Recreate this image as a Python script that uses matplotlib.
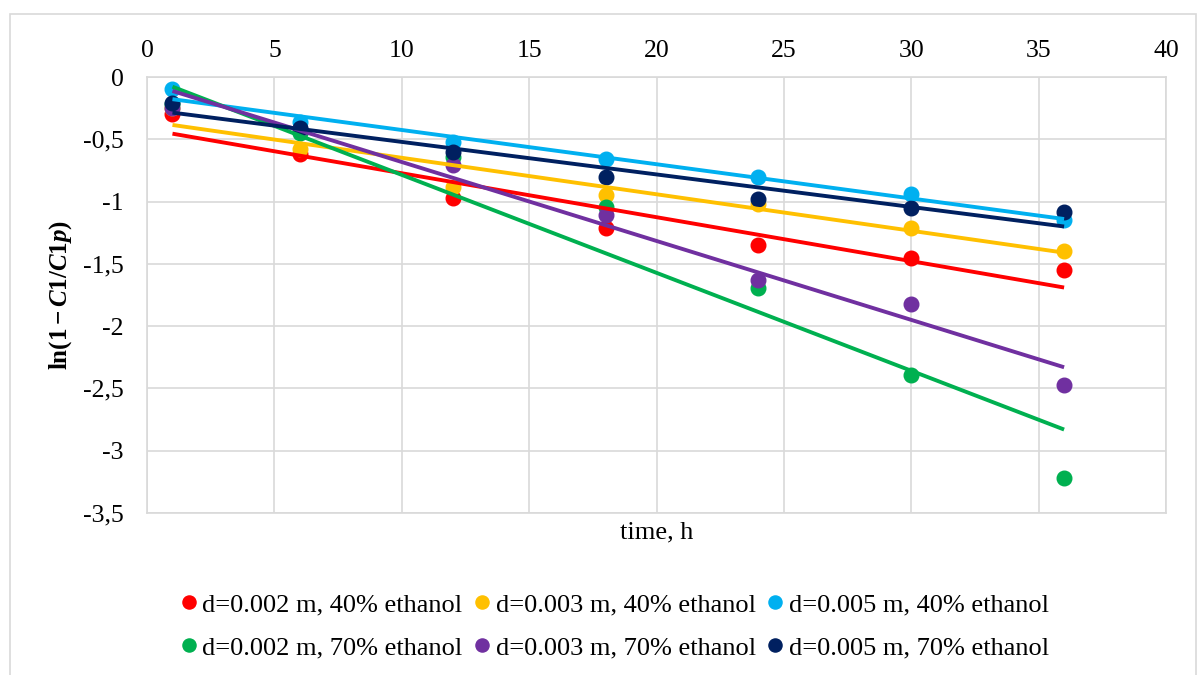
import numpy as np
import matplotlib
matplotlib.use("Agg")
import matplotlib.pyplot as plt
from matplotlib.patches import Rectangle

# ---------------------------------------------------------------------------
# data
# ---------------------------------------------------------------------------
time_h = [1, 6, 12, 18, 24, 30, 36]

labels = [
    "d=0.002 m, 40% ethanol",
    "d=0.003 m, 40% ethanol",
    "d=0.005 m, 40% ethanol",
    "d=0.002 m, 70% ethanol",
    "d=0.003 m, 70% ethanol",
    "d=0.005 m, 70% ethanol",
]
colors = ["#FF0000", "#FFC000", "#00B0F0", "#00B050", "#7030A0", "#002060"]

d002_40 = [-0.30, -0.62, -0.97, -1.21, -1.35, -1.45, -1.55]
d003_40 = [-0.25, -0.58, -0.88, -0.95, -1.02, -1.21, -1.40]
d005_40 = [-0.10, -0.36, -0.52, -0.66, -0.80, -0.94, -1.15]
d002_70 = [-0.22, -0.45, -0.64, -1.04, -1.69, -2.39, -3.22]
d003_70 = [-0.25, -0.42, -0.71, -1.11, -1.63, -1.82, -2.47]
d005_70 = [-0.21, -0.41, -0.60, -0.80, -0.98, -1.05, -1.08]
series = [d002_40, d003_40, d005_40, d002_70, d003_70, d005_70]

# trend lines: value at t=1 and t=36
trend_t = [1, 36]
trend_002_40 = [-0.455, -1.69]
trend_003_40 = [-0.385, -1.41]
trend_005_40 = [-0.178, -1.14]
trend_002_70 = [-0.078, -2.83]
trend_003_70 = [-0.112, -2.33]
trend_005_70 = [-0.286, -1.20]
trends = [trend_002_40, trend_003_40, trend_005_40,
          trend_002_70, trend_003_70, trend_005_70]

xticks = [0, 5, 10, 15, 20, 25, 30, 35, 40]
yticks = [0, -0.5, -1, -1.5, -2, -2.5, -3, -3.5]
ytick_labels = ["0", "-0,5", "-1", "-1,5", "-2", "-2,5", "-3", "-3,5"]

# ---------------------------------------------------------------------------
# style
# ---------------------------------------------------------------------------
plt.rcParams["font.family"] = ["Liberation Serif", "DejaVu Serif"]
plt.rcParams["mathtext.fontset"] = "custom"
plt.rcParams["mathtext.rm"] = "Liberation Serif"
plt.rcParams["mathtext.bf"] = "Liberation Serif:bold"
plt.rcParams["mathtext.it"] = "Liberation Serif:italic"
plt.rcParams["mathtext.bfit"] = "Liberation Serif:bold:italic"

grid_c = "#D9D9D9"
W, H = 1197, 675
fig = plt.figure(figsize=(W / 100, H / 100), dpi=100)

# chart-area border
fig.patches.append(Rectangle((10 / W, -0.01), (W - 11) / W, 1 - 14 / H + 0.01,
                             transform=fig.transFigure, fill=False,
                             edgecolor=grid_c, linewidth=1.2))

ax = fig.add_axes([147 / W, 1 - 513 / H, (1166 - 147) / W, (513 - 77) / H])

handles = []
for vals, trend, col, lab in zip(series, trends, colors, labels):
    h, = ax.plot(time_h, vals, "o", color=col, markersize=10.5, label=lab,
                 zorder=3, linestyle="none")
    handles.append(h)
    ax.plot(trend_t, trend, "-", color=col, linewidth=2.8, zorder=4,
            solid_capstyle="butt")

ax.set_xlim(0, 40)
ax.set_ylim(-3.5, 0)
ax.set_xticks(xticks)
ax.set_xticklabels([str(x) for x in xticks])
ax.set_yticks(yticks)
ax.set_yticklabels(ytick_labels)
ax.xaxis.tick_top()
ax.tick_params(length=0, labelsize=18.5, colors="#000000")
ax.tick_params(axis="x", pad=11)
ax.tick_params(axis="y", pad=17)
ax.grid(True, color=grid_c, linewidth=1.2)
ax.set_axisbelow(True)
for s in ax.spines.values():
    s.set_color(grid_c)
    s.set_linewidth(1.2)

ax.xaxis.set_label_position("bottom")
ax.set_xlabel("time, h", fontsize=19, labelpad=6)
ax.set_ylabel(r"$\mathbf{ln(1-}\mathbfit{C}\mathbf{1/}\mathbfit{C}\mathbf{1}\mathbfit{p}\mathbf{)}$",
              fontsize=18, labelpad=6)

# row-major legend order (3 columns, 2 rows)
order = [0, 3, 1, 4, 2, 5]
fig.legend([handles[i] for i in order], [labels[i] for i in order],
           loc="center", bbox_to_anchor=(613 / W, 1 - 626 / H), ncol=3,
           frameon=False, fontsize=19, handletextpad=0.05,
           columnspacing=0.3, labelspacing=0.75, markerscale=0.9,
           handlelength=0.9, borderpad=0.2)

fig.savefig("out.png", dpi=100)
